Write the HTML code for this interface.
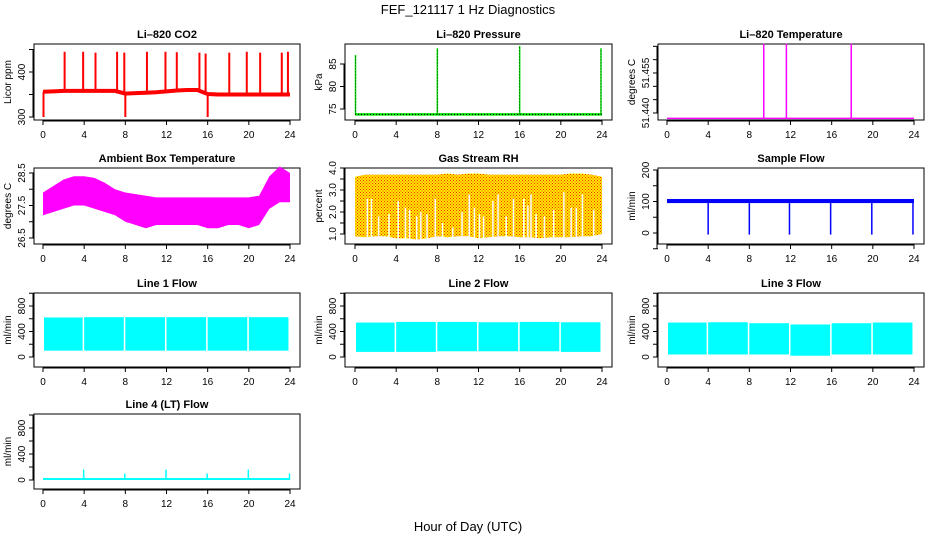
<!DOCTYPE html>
<html><head><meta charset="utf-8"><style>
html,body{margin:0;padding:0;background:#fff;width:936px;height:540px;overflow:hidden}
svg{display:block;font-family:"Liberation Sans",Arial,sans-serif}
</style></head><body>
<svg id="c" width="936" height="540" viewBox="0 0 936 540">
<defs>
<pattern id="rhpat" width="3" height="3" patternUnits="userSpaceOnUse"><rect width="3" height="3" fill="#ffee00"/><rect width="1" height="1" fill="#ff2000"/><rect x="1.5" y="1.5" width="1" height="1" fill="#ff2000"/></pattern>
</defs>
<text x="468" y="14" text-anchor="middle" font-size="13">FEF_121117  1 Hz Diagnostics</text>
<text x="468" y="531" text-anchor="middle" font-size="13">Hour of Day (UTC)</text>
</svg>
<script>
// ---- data ----
const xTicks=[0,4,8,12,16,20,24];
const hours=[0,1,2,3,4,5,6,7,8,9,10,11,12,13,14,15,16,17,18,19,20,21,22,23,24];
const co2Base=[356,357,358,358,358,358,358,358,352,353,354,355,357,359,360,360,351,350,350,350,350,350,350,350,350];
const co2SpikeT=[2.1,3.9,5.1,7.2,7.9,10.1,11.9,13.0,15.2,15.8,18.1,19.8,21.1,23.2,23.8];
const co2SpikeV=[445,445,443,445,443,445,445,444,443,441,443,445,443,443,445];
const co2DipT=[0.05,8.0,16.0];
const co2DipV=[300,300,300];
const presBase=73.8;
const presSpikeT=[0.05,8.0,16.0,23.9];
const presSpikeV=[87,88.5,89,88.5];
const tempBase=51.438;
const tempSpikeT=[9.4,11.6,17.9];
const tempSpikeV=[51.466,51.466,51.466];
const ambHi=[27.9,28.1,28.3,28.4,28.4,28.35,28.2,28.0,27.9,27.85,27.8,27.75,27.75,27.75,27.75,27.75,27.75,27.75,27.75,27.75,27.75,27.8,28.4,28.7,28.5];
const ambLo=[27.2,27.3,27.4,27.5,27.5,27.4,27.3,27.2,27.0,26.9,26.8,26.9,26.9,26.9,26.9,26.9,26.8,26.8,26.9,26.9,26.8,26.9,27.4,27.6,27.6];
const rhHi=[3.6,3.7,3.7,3.7,3.7,3.7,3.7,3.7,3.7,3.75,3.7,3.75,3.75,3.7,3.7,3.7,3.7,3.7,3.7,3.7,3.7,3.75,3.75,3.7,3.6];
const rhLo=[0.9,0.85,0.9,0.9,0.8,0.8,0.75,0.8,0.9,0.85,0.9,0.9,0.8,0.85,0.9,0.9,0.85,0.85,0.8,0.85,0.85,0.85,0.9,0.9,1.0];
const rhGapT=[1.2,1.6,2.3,3.3,4.2,4.9,5.3,6.0,6.4,7.0,7.8,8.5,9.5,10.4,11.1,11.6,12.1,12.5,13.4,13.9,14.7,15.4,16.4,16.8,17.1,17.6,18.4,19.3,20.3,21.0,21.5,22.1,23.2];
const rhGapV=[2.6,2.6,1.8,1.9,2.5,2.2,2.1,1.8,2.0,1.9,2.6,1.5,1.3,2.0,2.8,2.2,1.9,1.8,2.5,2.8,1.8,2.6,2.6,2.3,2.8,1.9,1.8,2.1,2.9,2.2,2.2,2.8,2.1];
const sfHi=108, sfLo=95;
const sfDropT=[4.0,8.0,11.9,15.9,19.9,23.9];
const sfDropV=[-5,-5,-5,-5,-5,-5];
const segStart=[0.1,4.0,8.0,12.0,16.0,20.0];
const segEnd=[3.85,7.85,11.85,15.85,19.85,23.85];
const l1Hi=[620,625,625,625,625,625], l1Lo=[100,100,100,100,100,100];
const l2Hi=[540,550,550,545,550,545], l2Lo=[80,80,90,90,90,80];
const l3Hi=[540,545,530,510,530,540], l3Lo=[40,40,40,20,40,40];
const l4Base=[0,30];
const l4SpikeT=[4.0,8.0,12.0,16.0,20.0,24.0];
const l4SpikeV=[160,100,160,100,160,100];

const svg=document.getElementById('c');
const NS='http://www.w3.org/2000/svg';
function mk(tag,attrs,parent){const e=document.createElementNS(NS,tag);for(const k in attrs)e.setAttribute(k,attrs[k]);(parent||svg).appendChild(e);return e;}
const cols=[[34,300,43,290],[345,612,355,602],[658,924,667,914]];
const rows=[[44,120],[168,244],[293,367],[414,489]];

function panel(name,c,r,title,ylab,v1,p1,v2,p2,yt,yl){
  const g=mk('g',{});
  
  
  const [L,R,X0,X24]=cols[c],[T,B]=rows[r];
  const P={g:g,x:v=>X0+(X24-X0)*v/24,y:v=>p1+(p2-p1)*(v-v1)/(v2-v1),L,R,T,B};
  const t=mk('text',{x:(L+R)/2,y:T-6,'text-anchor':'middle','font-size':11,'font-weight':'bold'},g);t.textContent=title;
  
  
  const box=mk('rect',{x:L,y:T,width:R-L,height:B-T,fill:'none',stroke:'#000','stroke-width':1},g);
  
  
  mk('line',{x1:P.x(0),x2:P.x(24),y1:B+1,y2:B+1,stroke:'#000'},g);
  xTicks.forEach(v=>{mk('line',{x1:P.x(v),x2:P.x(v),y1:B,y2:B+5,stroke:'#000'},g);
    const tx=mk('text',{x:P.x(v),y:B+18,'text-anchor':'middle','font-size':10},g);tx.textContent=v;
    
    });
  mk('line',{x1:L-1,x2:L-1,y1:P.y(yt[0]),y2:P.y(yt[yt.length-1]),stroke:'#000'},g);
  yt.forEach(v=>mk('line',{x1:L-5,x2:L,y1:P.y(v),y2:P.y(v),stroke:'#000'},g));
  yl.forEach(v=>{const yy=P.y(parseFloat(v));const tx=mk('text',{x:0,y:0,'text-anchor':'middle','font-size':10,transform:`translate(${L-9},${yy}) rotate(-90)`},g);tx.textContent=v;
    
    });
  const yl2=mk('text',{x:0,y:0,'text-anchor':'middle','font-size':10,transform:`translate(${L-23},${(T+B)/2}) rotate(-90)`},g);yl2.textContent=ylab;
  
  
  return P;
}
function vline(P,t,a,b,col,w){return mk('line',{x1:P.x(t),x2:P.x(t),y1:P.y(a),y2:P.y(b),stroke:col,'stroke-width':w||1.5},P.g);}
function band(P,xs,hi,lo,fill){let pts=xs.map((h,i)=>P.x(h)+','+P.y(hi[i]));for(let i=xs.length-1;i>=0;i--)pts.push(P.x(xs[i])+','+P.y(lo[i]));return mk('polygon',{points:pts.join(' '),fill:fill},P.g);}

// CO2
let P=panel('co2',0,0,'Li–820 CO2','Licor ppm',300,117,400,72,[300,350,400,450],['300','400']);
let e=mk('polyline',{points:hours.map((h,i)=>P.x(h)+','+P.y(co2Base[i])).join(' '),fill:'none',stroke:'#f00','stroke-width':4},P.g);


co2SpikeT.forEach((t,i)=>{const s=vline(P,t,co2Base[Math.round(t)],co2SpikeV[i],'#f00',2);
  
  });
co2DipT.forEach((t,i)=>{const s=vline(P,t,co2Base[Math.round(t)],co2DipV[i],'#f00',2);
  
  });

// Pressure
P=panel('pressure',1,0,'Li–820 Pressure','kPa',75,109,85,64,[75,80,85],['75','80','85']);
e=mk('line',{x1:P.x(0),x2:P.x(24),y1:P.y(presBase),y2:P.y(presBase),stroke:'#00e000','stroke-width':2.5},P.g);


mk('line',{x1:P.x(0),x2:P.x(24),y1:P.y(presBase),y2:P.y(presBase),stroke:'#000','stroke-width':1,'stroke-dasharray':'1 2'},P.g);
presSpikeT.forEach((t,i)=>{const s=vline(P,t,presBase,presSpikeV[i],'#00e000',1.5);
  
  
  mk('line',{x1:P.x(t),x2:P.x(t),y1:P.y(presBase),y2:P.y(presSpikeV[i]),stroke:'#000','stroke-width':0.7,'stroke-dasharray':'1 2'},P.g);});

// Temperature
P=panel('li820-temp',2,0,'Li–820 Temperature','degrees C',51.440,113,51.455,73,[51.440,51.445,51.450,51.455,51.460,51.465],['51.440','51.455']);
e=mk('line',{x1:P.x(0),x2:P.x(24),y1:P.y(tempBase),y2:P.y(tempBase),stroke:'#f0f','stroke-width':1.5},P.g);


tempSpikeT.forEach((t,i)=>{const s=vline(P,t,tempBase,tempSpikeV[i],'#f0f',1.5);
  
  });

// Ambient
P=panel('ambient-temp',0,1,'Ambient Box Temperature','degrees C',26.5,238,28.5,173,[26.5,27,27.5,28,28.5],['26.5','27.5','28.5']);
e=band(P,hours,ambHi,ambLo,'#f0f');



// RH
P=panel('gas-rh',1,1,'Gas Stream RH','percent',1.0,234,4.0,168,[1.0,1.5,2.0,2.5,3.0,3.5,4.0],['1.0','2.0','3.0','4.0']);
e=band(P,hours,rhHi,rhLo,'url(#rhpat)');


rhGapT.forEach((t,i)=>{const s=vline(P,t,0.7,rhGapV[i],'#fff',1.5);
  
  });

// Sample flow
P=panel('sample-flow',2,1,'Sample Flow','ml/min',0,233,200,170,[-50,0,50,100,150,200],['0','100','200']);
e=mk('rect',{x:P.x(0),y:P.y(sfHi),width:P.x(24)-P.x(0),height:P.y(sfLo)-P.y(sfHi),fill:'#00f'},P.g);


sfDropT.forEach((t,i)=>{const s=vline(P,t,sfLo,sfDropV[i],'#00f',1.5);
  
  });

// Line flows
function flow(name,c,r,title,hi,lo){
  const Q=panel(name,c,r,title,'ml/min',0,357,800,306,[0,200,400,600,800,1000],['0','400','800']);
  segStart.forEach((s,i)=>{const rc=mk('rect',{x:Q.x(s),y:Q.y(hi[i]),width:Q.x(segEnd[i])-Q.x(s),height:Q.y(lo[i])-Q.y(hi[i]),fill:'#0ff'},Q.g);
    
    });
  return Q;
}
flow('line1-flow',0,2,'Line 1 Flow',l1Hi,l1Lo);
flow('line2-flow',1,2,'Line 2 Flow',l2Hi,l2Lo);
flow('line3-flow',2,2,'Line 3 Flow',l3Hi,l3Lo);
P=panel('line4-flow',0,3,'Line 4 (LT) Flow','ml/min',0,480,800,428,[0,200,400,600,800,1000],['0','400','800']);
e=mk('rect',{x:P.x(0),y:P.y(l4Base[1]),width:P.x(24)-P.x(0),height:P.y(l4Base[0])-P.y(l4Base[1]),fill:'#0ff'},P.g);


l4SpikeT.forEach((t,i)=>{const s=vline(P,t-0.05,0,l4SpikeV[i],'#0ff',1.5);
  
  });
</script>
</body></html>
